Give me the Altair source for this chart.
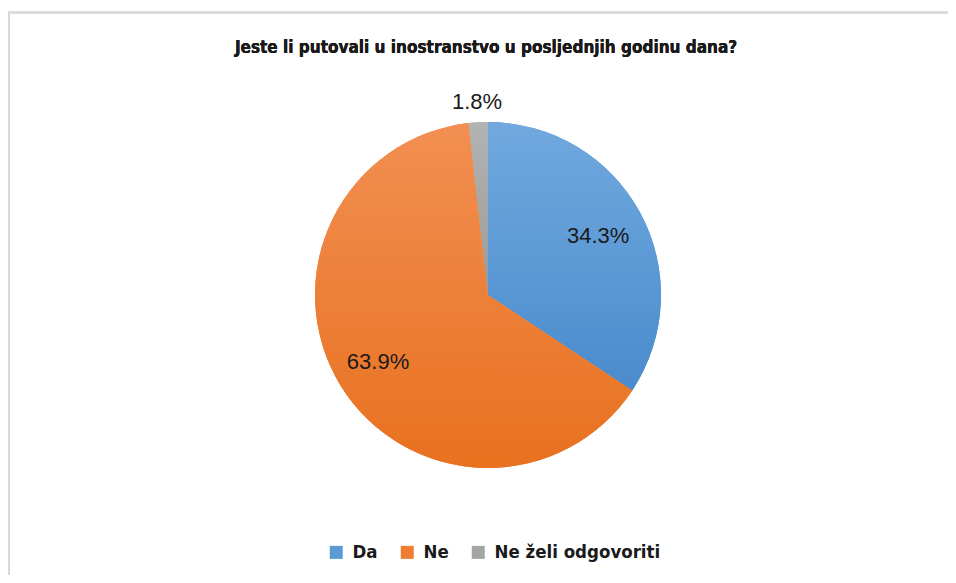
import altair as alt
import pandas as pd

categories = ["Da", "Ne", "Ne želi odgovoriti"]
values = [34.3, 63.9, 1.8]
labels = ["34.3%", "63.9%", "1.8%"]
colors = ["#5B9BD5", "#ED7D31", "#A5A5A5"]
title_text = "Jeste li putovali u inostranstvo u posljednjih godinu dana?"

df = pd.DataFrame({"cat": categories, "val": values, "lab": labels, "order": [0, 1, 2]})

CX, CY, R = 480, 287, 173
FONT = "DejaVu Sans Condensed, Roboto"

def grad(c1, c2):
    return {
        "gradient": "linear",
        "x1": 0, "y1": 0, "x2": 0, "y2": 1,
        "stops": [{"color": c1, "offset": 0}, {"color": c2, "offset": 1}],
    }

base = alt.Chart(df).encode(
    theta=alt.Theta("val:Q", stack=True),
    order=alt.Order("order:Q"),
)

pie = base.mark_arc(radius=R, stroke=None).encode(
    x=alt.value(CX),
    y=alt.value(CY),
    color=alt.Color(
        "cat:N",
        scale=alt.Scale(domain=categories, range=colors),
        sort=categories,
        legend=alt.Legend(
            orient="none",
            legendX=319,
            legendY=535,
            direction="horizontal",
            title=None,
            symbolType="square",
            symbolSize=169,
            symbolStrokeWidth=0,
            labelFont=FONT,
            labelFontSize=18.5,
            labelFontWeight="bold",
            labelColor="#1a1a1a",
            labelOffset=7,
            labelLimit=0,
            columnPadding=20,
        ),
    ),
)

pie_grad = base.mark_arc(radius=R).encode(
    x=alt.value(CX),
    y=alt.value(CY),
    color={
        "condition": [
            {"test": "datum.cat === 'Da'", "value": grad("#71A9DE", "#4A8BCD")},
            {"test": "datum.cat === 'Ne'", "value": grad("#F28F52", "#E8711F")},
        ],
        "value": grad("#B3B3B3", "#9A9A9A"),
    },
)

text = (
    alt.Chart(df)
    .transform_window(cum="sum(val)", sort=[alt.SortField("order")], frame=[None, 0])
    .transform_joinaggregate(total="sum(val)")
    .transform_calculate(
        mid="(datum.cum - datum.val / 2) / datum.total * 2 * PI",
        lr="datum.cat === 'Da' ? 125 : (datum.cat === 'Ne' ? 129 : 193)",
    )
    .mark_text(font="Liberation Sans", fontSize=22, color="#1a1a1a")
    .encode(
        x=alt.value(CX),
        y=alt.value(CY),
        theta=alt.Theta("mid:Q", scale=None, stack=None),
        radius=alt.Radius("lr:Q", scale=None),
        text="lab:N",
    )
)

title = alt.Chart(df).mark_text(
    font=FONT, fontSize=17, fontWeight="bold", color="#1a1a1a", baseline="middle", align="center"
).encode(
    x=alt.value(478), y=alt.value(40), text=alt.value(title_text)
)

border_v = alt.Chart(df).mark_rule(color="#D9D9D9", strokeWidth=2).encode(
    x=alt.value(1), y=alt.value(3.5), y2=alt.value(700)
)
border_h = alt.Chart(df).mark_rule(color="#D9D9D9", strokeWidth=2).encode(
    x=alt.value(0), x2=alt.value(1000), y=alt.value(4.5)
)

chart = alt.layer(border_v, border_h, pie, pie_grad, text, title).resolve_scale(
    theta="independent", radius="independent"
).properties(
    width=940,
    height=567,
    padding=0,
    autosize=alt.AutoSizeParams(type="none"),
).configure_view(stroke=None)

chart.save("out.html", embed_options={"renderer": "svg", "actions": False})
